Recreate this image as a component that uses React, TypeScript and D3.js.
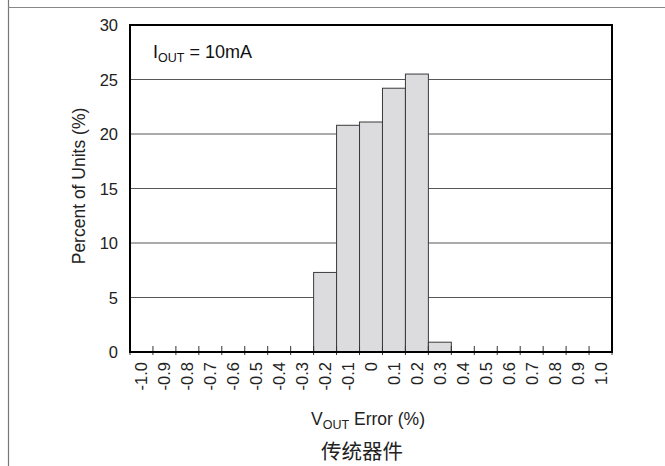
import React from "react";
import * as d3 from "d3";

const binLabels = ["-1.0","-0.9","-0.8","-0.7","-0.6","-0.5","-0.4","-0.3","-0.2","-0.1","0","0.1","0.2","0.3","0.4","0.5","0.6","0.7","0.8","0.9","1.0"];
const percentValues = [0,0,0,0,0,0,0,0,7.3,20.8,21.1,24.2,25.5,0.9,0,0,0,0,0,0,0];
const yTicks = [0,5,10,15,20,25,30];

const W = 665, H = 466;
const M = { left: 130, right: 612, top: 25, bottom: 352 };
const FONT = "'Liberation Sans', Arial, sans-serif";

export default function App() {
  const x = d3.scaleBand<string>().domain(binLabels).range([M.left, M.right]).paddingInner(0).paddingOuter(0);
  const y = d3.scaleLinear().domain([0, 30]).range([M.bottom, M.top]);
  const bw = x.bandwidth();
  const tickXs = binLabels.map((l) => x(l) as number).concat([M.right]);

  return (
    <svg width={W} height={H} style={{ position: "absolute", left: 0, top: 0, background: "#fff" }} fontFamily={FONT}>
      {/* outer borders */}
      <line x1={8.5} x2={8.5} y1={0} y2={H} stroke="#777" strokeWidth={1.2} />
      <line x1={8} x2={W} y1={7.5} y2={7.5} stroke="#888" strokeWidth={1.2} />

      {/* gridlines */}
      {yTicks.filter((t) => t > 0 && t < 30).map((t) => (
        <line key={"g" + t} x1={M.left} x2={M.right} y1={y(t)} y2={y(t)} stroke="#444" strokeWidth={0.9} />
      ))}

      {/* bars */}
      {binLabels.map((l, i) =>
        percentValues[i] > 0 ? (
          <rect key={"b" + l} x={x(l)} y={y(percentValues[i])} width={bw} height={M.bottom - y(percentValues[i])}
            fill="#dcdcde" stroke="#3a3a3a" strokeWidth={1} />
        ) : null
      )}

      {/* x ticks */}
      {tickXs.map((tx, i) => (
        <line key={"t" + i} x1={tx} x2={tx} y1={M.bottom - 6} y2={M.bottom + 3} stroke="#333" strokeWidth={1} />
      ))}

      {/* frame */}
      <rect x={M.left} y={M.top} width={M.right - M.left} height={M.bottom - M.top} fill="none" stroke="#000" strokeWidth={2} />

      {/* y labels */}
      {yTicks.map((t) => (
        <text key={"yl" + t} x={118} y={y(t) + 6} textAnchor="end" fontSize={16.5} fill="#222">{t}</text>
      ))}

      {/* x labels */}
      {binLabels.map((l) => {
        const cx = (x(l) as number) + bw / 2;
        return (
          <text key={"xl" + l} transform={`translate(${cx + 6},362) rotate(-90)`} textAnchor="end" fontSize={16.5} fill="#222">{l}</text>
        );
      })}

      {/* annotation */}
      <text x={153} y={58} fontSize={18} fill="#111">
        I<tspan fontSize={12.5} dy={4}>OUT</tspan><tspan dy={-4}> = 10mA</tspan>
      </text>

      {/* y title */}
      <text transform={`translate(85,186) rotate(-90)`} textAnchor="middle" fontSize={17.5} fill="#222">Percent of Units (%)</text>

      {/* x title */}
      <text x={368} y={425} textAnchor="middle" fontSize={17.5} fill="#222">
        V<tspan fontSize={12.5} dy={4}>OUT</tspan><tspan dy={-4}> Error (%)</tspan>
      </text>

      <text x={362} y={459} textAnchor="middle" fontSize={20.5} fill="#222" fontFamily="'Noto Sans CJK SC', sans-serif">传统器件</text>
    </svg>
  );
}
